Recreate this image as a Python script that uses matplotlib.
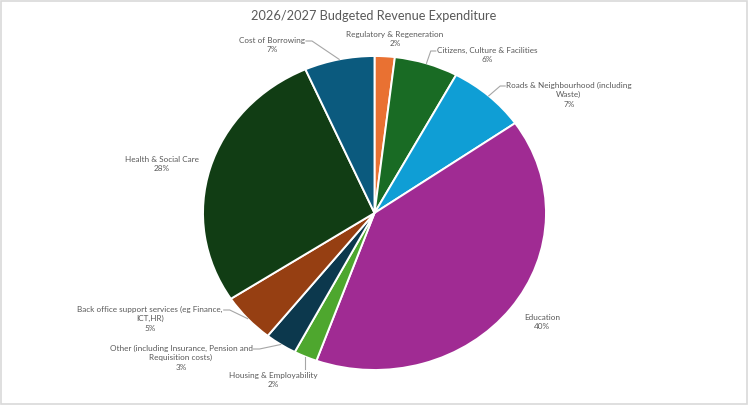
import matplotlib
matplotlib.use("Agg")
import matplotlib.pyplot as plt
import numpy as np
from matplotlib.lines import Line2D
from matplotlib.transforms import IdentityTransform
from matplotlib.patches import Rectangle

categories = [
    "Regulatory & Regeneration",
    "Citizens, Culture & Facilities",
    "Roads & Neighbourhood (including\nWaste)",
    "Education",
    "Housing & Employability",
    "Other (including Insurance, Pension and\nRequisition costs)",
    "Back office support services (eg Finance,\nICT,HR)",
    "Health & Social Care",
    "Cost of Borrowing",
]
values = [1.9, 6.0, 7.4, 40.2, 2.2, 3.0, 5.1, 27.6, 6.6]
pct_labels = ["2%", "6%", "7%", "40%", "2%", "3%", "5%", "28%", "7%"]
colors = ["#E97132", "#196B24", "#0F9ED5", "#A02B93", "#4EA72E",
          "#0C384D", "#963F12", "#113D14", "#0B5A7E"]

W, H = 749, 405
fig = plt.figure(figsize=(W / 100, H / 100), dpi=100)
ax = fig.add_axes([0, 0, 1, 1])

# pie geometry (pixels, top-origin)
cx, cy, rx, ry = 374.5, 213.0, 171.5, 157.0
wedges, _ = ax.pie(values, colors=colors, startangle=90, counterclock=False,
                   radius=1.0, center=(0, 0),
                   wedgeprops=dict(edgecolor="white", linewidth=1.4))
ax.set_aspect("auto")
ax.set_xlim(-cx / rx, (W - cx) / rx)
ax.set_ylim(-(H - cy) / ry, cy / ry)
ax.axis("off")

FONT = "Lato"
TXT = "#595959"
LINE = "#A6A6A6"

fig.text(374 / W, 1 - 16 / H, "2026/2027 Budgeted Revenue Expenditure",
         ha="center", va="center", fontsize=9.2, color=TXT, family=FONT)

# label centre positions (pixels, top-origin) of first text line
label_pos = [
    (395, 34), (487, 50), (569, 85), (542, 317), (273, 375),
    (181, 348), (150, 309), (162, 159), (272, 40),
]
LS = 9.6
texts = []
for i, (lx, ly) in enumerate(label_pos):
    s = categories[i] + "\n" + pct_labels[i]
    nlines = s.count("\n") + 1
    yc = ly + (nlines - 1) * LS / 2
    t = fig.text(lx / W, 1 - yc / H, s, ha="center", va="center",
                 fontsize=5.9, color=TXT, family=FONT, linespacing=1.42)
    texts.append(t)

fig.canvas.draw()
renderer = fig.canvas.get_renderer()

# leader lines: side of label ('L' = line leaves from label's left, 'R' = right, 'B' = from below)
leaders = {8: "R", 1: "L", 2: "L", 4: "B", 5: "R", 6: "R"}
for i, side in leaders.items():
    w = wedges[i]
    mid = np.deg2rad((w.theta1 + w.theta2) / 2)
    ex, ey = ax.transData.transform((np.cos(mid), np.sin(mid)))
    bb = texts[i].get_window_extent(renderer)
    ly = H - label_pos[i][1] - 1
    if side == "R":
        x0 = bb.x1 + 1
        pts = [(x0, ly), (x0 + 6, ly), (ex, ey)]
    elif side == "L":
        x0 = bb.x0 - 1
        pts = [(x0, ly), (x0 - 5, ly), (ex, ey)]
    else:
        pts = [(ex, bb.y1 + 3), (ex, ey)]
    fig.add_artist(Line2D([p[0] for p in pts], [p[1] for p in pts],
                          transform=IdentityTransform(), color=LINE, lw=0.8))

# outer frame
fig.add_artist(Rectangle((0.5, 1.5), 746, 403, transform=IdentityTransform(),
                         fill=False, edgecolor="#D9D9D9", lw=1.2))

fig.savefig("out.png", dpi=100)
